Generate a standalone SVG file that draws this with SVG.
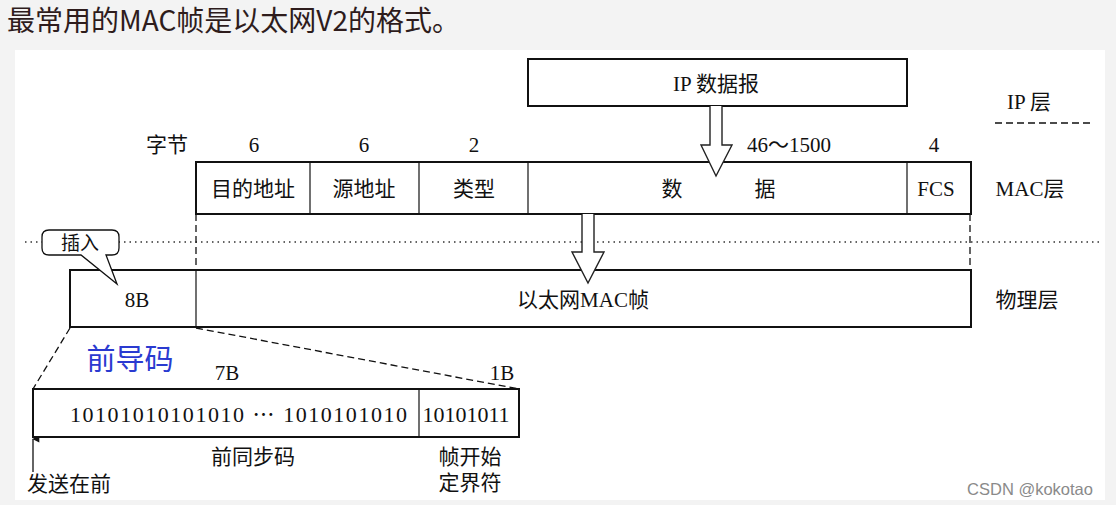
<svg xmlns="http://www.w3.org/2000/svg" width="1116" height="505" viewBox="0 0 1116 505">
<defs>
<style>
.t{font-family:"Liberation Serif","Noto Sans CJK SC",serif;font-size:21px;fill:#111;text-anchor:middle;dominant-baseline:central}
.box{fill:#fff;stroke:#111;stroke-width:2}
.div{stroke:#111;stroke-width:1.2}
.dash{stroke:#111;stroke-width:1.3;stroke-dasharray:7 4;fill:none}
.arrow{fill:#fff;stroke:#222;stroke-width:1.4}
</style>
<marker id="ah" viewBox="0 0 10 10" refX="5" refY="1" markerWidth="7" markerHeight="10" orient="auto-start-reverse" markerUnits="userSpaceOnUse">
<path d="M0,10 L5,0 L10,10 Z" fill="#111"/>
</marker>
</defs>
<rect width="1116" height="505" fill="#f3f3f3"/>
<rect x="15" y="50" width="1090" height="450" fill="#fff"/>
<text x="7" y="31" style="font-family:'Noto Sans CJK SC',sans-serif;font-size:28px;fill:#2e1c1c">最常用的MAC帧是以太网V2的格式。</text>

<g id="connectors">
<line x1="25" y1="242" x2="1100" y2="242" stroke="#333" stroke-width="1.3" stroke-dasharray="1.5 4"/>
<line x1="196" y1="214" x2="196" y2="270" class="dash"/>
<line x1="970" y1="214" x2="970" y2="270" class="dash"/>
<line x1="995" y1="123" x2="1092" y2="123" class="dash"/>
<line x1="70" y1="328" x2="33" y2="389" class="dash"/>
<line x1="196" y1="328" x2="519" y2="389" class="dash"/>
<line x1="33" y1="472" x2="33" y2="439" stroke="#111" stroke-width="1.3" marker-end="url(#ah)"/>
</g>

<g id="ip">
<rect x="528" y="59" width="379" height="47" class="box"/>
<text x="716" y="84" class="t">IP 数据报</text>
</g>
<g id="ip-layer"><text x="1029" y="102" class="t">IP 层</text></g>

<g id="bytes">
<text x="167" y="145" class="t">字节</text>
<text x="254" y="145" class="t">6</text>
<text x="364" y="145" class="t">6</text>
<text x="474" y="145" class="t">2</text>
<text x="789" y="145" class="t">46～1500</text>
<text x="934" y="145" class="t">4</text>
</g>

<g id="mac">
<rect x="196" y="162" width="775" height="52" class="box"/>
<line x1="310" y1="162" x2="310" y2="214" class="div"/>
<line x1="419" y1="162" x2="419" y2="214" class="div"/>
<line x1="528" y1="162" x2="528" y2="214" class="div"/>
<line x1="907" y1="162" x2="907" y2="214" class="div"/>
<text x="253" y="189" class="t">目的地址</text>
<text x="364" y="189" class="t">源地址</text>
<text x="474" y="189" class="t">类型</text>
<text x="672" y="189" class="t">数</text>
<text x="765" y="189" class="t">据</text>
<text x="936" y="189" class="t">FCS</text>
</g>
<g id="mac-layer"><text x="1030" y="189" class="t">MAC层</text></g>

<g id="arrow1"><path d="M710,106 L710,145 L701,145 L716,176 L732,145 L722,145 L722,106" class="arrow"/></g>

<g id="phy">
<rect x="70" y="270" width="901" height="57" class="box"/>
<line x1="196" y1="270" x2="196" y2="327" class="div"/>
<text x="137" y="300" class="t">8B</text>
<text x="583" y="300" class="t">以太网MAC帧</text>
</g>
<g id="phy-layer"><text x="1027" y="300" class="t">物理层</text></g>

<g id="arrow2"><path d="M582,214 L582,252 L572,252 L588,283 L604,252 L594,252 L594,214" class="arrow"/></g>

<g id="callout">
<path d="M49,230 H112 Q119,230 119,237 V248 Q119,255 112,255 H106 L117,284 L81,255 H49 Q42,255 42,248 V237 Q42,230 49,230 Z" fill="#fff" stroke="#111" stroke-width="1.3"/>
<text x="80" y="243" class="t" style="font-size:19px">插入</text>
</g>

<g id="preamble">
<text x="130" y="357" style="font-family:'Noto Sans CJK SC',sans-serif;font-size:29px;fill:#2a3ad0;text-anchor:middle;dominant-baseline:central">前导码</text>
<text x="227" y="373" class="t">7B</text>
<text x="502" y="373" class="t">1B</text>
<rect x="33" y="389" width="486" height="48" class="box"/>
<line x1="419" y1="389" x2="419" y2="437" class="div"/>
<text x="70" y="414" class="t" style="font-size:22px;text-anchor:start" textLength="337" lengthAdjust="spacing">10101010101010 ⋯ 1010101010</text>
<text x="466" y="414" class="t" style="font-size:22px">10101011</text>
<text x="253" y="457" class="t">前同步码</text>
<text x="470" y="457" class="t">帧开始</text>
<text x="470" y="483" class="t">定界符</text>
<text x="69" y="484" class="t">发送在前</text>
</g>

<text x="1030" y="489" style="font-family:'Liberation Sans',sans-serif;font-size:16.5px;fill:#8a8a8a;text-anchor:middle;dominant-baseline:central">CSDN @kokotao</text>
</svg>
